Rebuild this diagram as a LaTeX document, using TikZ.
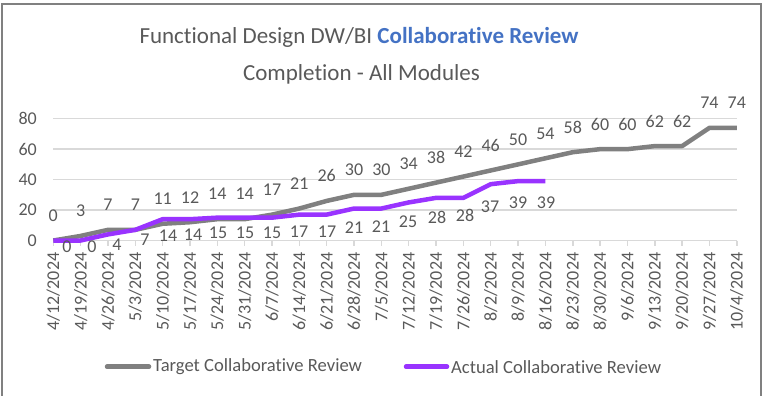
\documentclass[tikz,border=0pt]{standalone}
\usepackage{fontspec}
\setmainfont{Carlito}[Ligatures=NoCommon]
\usetikzlibrary{calc}
\definecolor{txtgray}{HTML}{595959}
\definecolor{bordergray}{HTML}{808080}
\definecolor{gridgray}{HTML}{D9D9D9}
\definecolor{targetgray}{HTML}{808080}
\definecolor{actualpurple}{HTML}{9933FF}
\definecolor{titleblue}{HTML}{4472C4}
\tikzset{
  frame/.style={draw=bordergray, line width=2.5pt},
  gridline/.style={draw=gridgray, line width=1.5pt},
  targetline/.style={draw=targetgray, line width=4.5pt, line join=round},
  actualline/.style={draw=actualpurple, line width=4.5pt, line join=round},
  lab/.style={inner sep=0pt, text=txtgray, font=\fontsize{18}{20}\selectfont},
  legtext/.style={inner sep=0pt, text=txtgray, font=\fontsize{18.6}{20}\selectfont},
  titletext/.style={inner sep=0pt, text=txtgray, font=\fontsize{23}{26}\selectfont},
  legline/.style={line width=4.5pt, line cap=round}
}
\begin{document}
\begin{tikzpicture}[x=1pt,y=-1pt]
\useasboundingbox (0,0) rectangle (763,396);
% frame
\draw[frame] (2,402) -- (2,4) -- (761,4) -- (761,402);
% title
\node[titletext] (title1) at (359,37) {Functional Design DW/BI \textcolor{titleblue}{\bfseries Collaborative Review}};
\node[titletext] (title2) at (361.5,74) {Completion - All Modules};
% grid and y labels
\foreach \v in {0,20,40,60,80}{
  \draw[gridline] (53.3,{240.5-1.5225*\v}) -- (736.8,{240.5-1.5225*\v});
  \node[lab, anchor=east] (y\v) at (37,{240.5-1.5225*\v}) {\v};
}
% ticks and dates
\foreach \m/\dd [count=\i from 0] in {4/12,4/19,4/26,5/3,5/10,5/17,5/24,5/31,6/7,6/14,6/21,6/28,7/5,7/12,7/19,7/26,8/2,8/9,8/16,8/23,8/30,9/6,9/13,9/20,9/27,10/4}{
  \draw[gridline] ({53.3+27.34*\i},240.5) -- ({53.3+27.34*\i},246);
  \node[lab, rotate=90, anchor=east] (d\i) at ({53.3+27.34*\i},252.5) {\m/\dd/2024};
}
% target data
\foreach \v [count=\i from 0] in {0,3,7,7,11,12,14,14,17,21,26,30,30,34,38,42,46,50,54,58,60,60,62,62,74,74}{
  \coordinate (t\i) at ({53.3+27.34*\i},{240.5-1.5225*\v});
}
% actual data
\foreach \v [count=\i from 0] in {0,0,4,7,14,14,15,15,15,17,17,21,21,25,28,28,37,39,39}{
  \coordinate (a\i) at ({53.3+27.34*\i},{240.5-1.5225*\v});
}
\draw[targetline] (t0) \foreach \i in {1,...,25}{ -- (t\i)};
\draw[actualline] (a0) \foreach \i in {1,...,18}{ -- (a\i)};
% target labels
\foreach \v [count=\i from 0] in {0,3,7,7,11,12,14,14,17,21,26,30,30,34,38,42,46,50,54,58,60,60,62,62,74,74}{
  \node[lab] (tl\i) at ([yshift=25pt]t\i) {\v};
}
% actual labels
\foreach \v/\px/\py [count=\i from 0] in {0/67/247,0/92/247,4/117/245,7/145/240,14/168/236,14/193/235,15/218/233,15/245/233,15/272/233,17/299/232,17/327/232,21/354/228,21/381/227,25/408/222,28/437/217,28/465/215,37/490/207,39/518/203,39/546/203}{
  \node[lab] (al\i) at (\px,\py) {\v};
}
% legend
\coordinate (lg1a) at (107,366.7);
\coordinate (lg1b) at (149,366.7);
\coordinate (lg2a) at (406,366.7);
\coordinate (lg2b) at (447,366.7);
\draw[legline, targetgray] (lg1a) -- (lg1b);
\draw[legline, actualpurple] (lg2a) -- (lg2b);
\node[legtext, anchor=west] (leg1) at (153,366.7) {Target Collaborative Review};
\node[legtext, anchor=west] (leg2) at (451,366.7) {Actual Collaborative Review};
\end{tikzpicture}
\end{document}
